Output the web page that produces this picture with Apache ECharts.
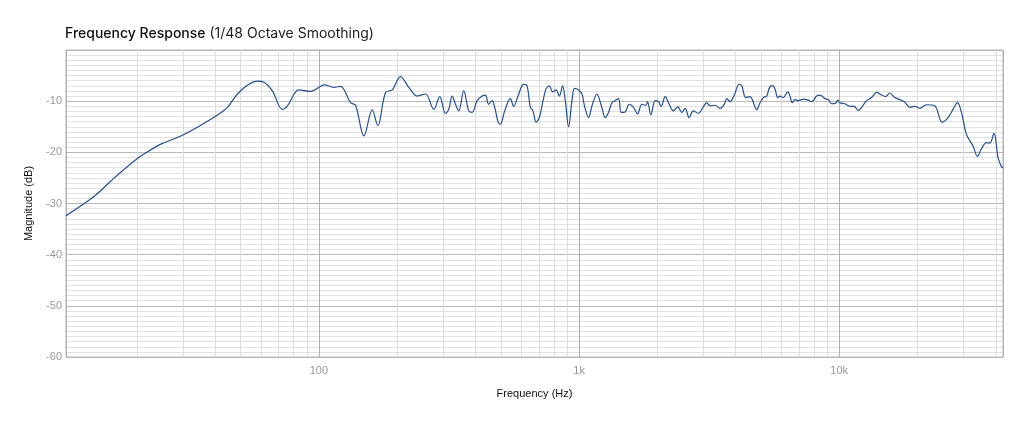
<!DOCTYPE html>
<html>
<head>
<meta charset="utf-8">
<title>Frequency Response</title>
<script src="https://cdn.jsdelivr.net/npm/echarts@6/dist/echarts.min.js"></script>
<style>
  html, body { margin: 0; padding: 0; background: #fff; }
  #chart { width: 1024px; height: 427px; }
</style>
</head>
<body>
<div id="chart"></div>
<script>
// frequency (Hz) and magnitude (dB)
var freqs = [
  10.66, 13.69, 15.86, 19.49, 21.61, 24.68, 29.45, 35.15, 40.74, 44.5,
  48.62, 53.11, 58.0, 61.5, 66.24, 72.36, 75.62, 83.81, 92.91, 101.5,
  104.5, 114.2, 121.1, 132.3, 138.3, 148.9, 160.3, 168.4, 180.3, 191.3,
  205.9, 221.6, 238.6, 256.8, 276.4, 291.4, 306.5, 315.5, 325.2, 334.8,
  344.7, 360.3, 376.6, 388.1, 405.6, 424.0, 436.5, 449.4, 463.2, 473.9,
  488.4, 498.4, 517.6, 544.4, 560.5, 582.7, 612.2, 631.0, 649.7, 665.3,
  683.2, 703.5, 724.4, 746.4, 768.6, 791.4, 815.5, 839.5, 864.4, 885.2,
  911.4, 939.1, 961.0, 995.6, 1026, 1050, 1088, 1121, 1171, 1217,
  1261, 1298, 1338, 1377, 1418, 1452, 1504, 1558, 1619, 1677,
  1744, 1806, 1832, 1888, 1961, 2020, 2069, 2143, 2220, 2306,
  2397, 2483, 2557, 2649, 2751, 2875, 2979, 3097, 3189, 3333,
  3483, 3618, 3695, 3805, 3952, 4121, 4220, 4373, 4542, 4635,
  4819, 4962, 5109, 5265, 5380, 5531, 5665, 5800, 5920, 6095,
  6337, 6467, 6600, 6760, 6961, 7275, 7603, 7834, 8188, 8431,
  8812, 9074, 9350, 9687, 9860, 10060, 10517, 10993, 11420, 11830,
  12190, 12740, 13320, 13920, 14550, 15080, 15650, 16360, 17100, 17870,
  18680, 19530, 20410, 21660, 23300, 24860, 26210, 27390, 28480, 29510,
  30850, 32700, 34000, 35220, 36810, 37900, 39360, 40780, 42020, 42620
];
var magnitudes = [
  -32.4, -28.6, -25.6, -21.7, -20.1, -18.4, -16.8, -14.7, -12.7, -11.2,
  -8.6, -6.9, -6.1, -6.3, -8.0, -11.6, -10.9, -7.8, -8.1, -7.1,
  -6.8, -7.3, -7.1, -10.3, -10.8, -16.8, -11.7, -14.8, -8.3, -7.8,
  -5.2, -7.3, -9.0, -8.6, -11.6, -9.1, -12.4, -11.6, -9.0, -10.6,
  -11.9, -8.0, -11.9, -12.2, -9.9, -9.0, -8.8, -10.6, -9.9, -11.2,
  -14.1, -14.5, -11.9, -9.5, -11.0, -9.0, -6.7, -7.0, -11.2, -11.9,
  -14.1, -13.2, -10.3, -7.6, -7.0, -8.2, -7.8, -9.0, -7.0, -9.9,
  -15.0, -9.9, -7.5, -7.8, -8.6, -11.0, -13.2, -10.9, -8.6, -10.8,
  -13.2, -12.2, -10.3, -9.9, -9.5, -12.2, -12.1, -10.6, -11.2, -12.5,
  -10.6, -10.8, -10.1, -12.7, -9.9, -10.1, -11.0, -9.1, -10.6, -11.9,
  -11.1, -12.2, -11.4, -13.2, -11.9, -12.4, -11.4, -10.3, -10.9, -10.8,
  -11.4, -10.6, -9.5, -10.1, -8.8, -6.7, -7.0, -9.3, -9.1, -9.7,
  -11.7, -10.3, -9.3, -9.0, -7.5, -6.9, -7.6, -9.3, -9.0, -9.3,
  -8.2, -9.0, -10.3, -9.7, -9.9, -9.6, -9.8, -10.1, -9.0, -8.8,
  -9.5, -9.7, -10.5, -10.4, -9.8, -10.3, -10.5, -11.0, -11.0, -11.8,
  -11.2, -9.9, -9.3, -8.3, -8.8, -9.1, -8.4, -9.3, -9.7, -10.2,
  -11.2, -11.0, -11.4, -10.7, -10.9, -14.1, -13.2, -11.6, -10.3, -12.2,
  -16.5, -18.8, -20.8, -19.3, -18.1, -18.2, -16.3, -21.0, -22.8, -23.0
];

var freqMin = 10.66;
var freqMax = 42620;
var dbTicks = [-60, -50, -40, -30, -20, -10, 0];

(function() {
	var chart = echarts.init(document.getElementById("chart"));

	var data = [];
	for (var i = 0; i < freqs.length; i++) {
		data.push([freqs[i], magnitudes[i]]);
	}

	// minor vertical grid: 2..9 of each decade
	var minorLines = [];
	[10, 100, 1000, 10000].forEach(function(dec) {
		for (var k = 2; k <= 9; k++) {
			var f = dec * k;
			if (f > freqMin && f < freqMax) minorLines.push({ xAxis: f });
		}
	});

	var option = {
		animation: false,
		title: {
			text: '{b|Frequency Response}{n| (1/48 Octave Smoothing)}',
			left: 60,
			top: 22,
			textStyle: {
				rich: {
					b: { fontSize: 14, color: '#111', fontWeight: 500, fontFamily: 'Inter' },
					n: { fontSize: 14, color: '#222', fontWeight: 'normal', fontFamily: 'Inter' }
				}
			}
		},
		grid: {
			left: 66,
			right: 21,
			top: 50,
			bottom: 70,
			show: true,
			borderColor: '#b5b5b5',
			borderWidth: 1
		},
		xAxis: {
			type: 'log',
			logBase: 10,
			min: freqMin,
			max: freqMax,
			name: 'Frequency (Hz)',
			nameLocation: 'middle',
			nameGap: 31,
			nameTextStyle: { color: '#111', fontSize: 11, fontFamily: 'Liberation Sans' },
			axisLine: { lineStyle: { color: '#b5b5b5' } },
			axisTick: { show: false },
			axisLabel: {
				color: '#999',
				fontSize: 11,
				fontFamily: 'Liberation Sans',
				margin: 8,
				showMinLabel: false,
				showMaxLabel: false,
				formatter: function(v) {
					v = Math.round(v);
					return v >= 1000 ? (v / 1000) + 'k' : String(v);
				}
			},
			splitLine: { show: true, lineStyle: { color: '#b0b0b0', width: 1 } }
		},
		yAxis: {
			type: 'value',
			min: dbTicks[0],
			max: dbTicks[dbTicks.length - 1],
			interval: 10,
			name: 'Magnitude (dB)',
			nameLocation: 'middle',
			nameRotate: 90,
			nameGap: 32,
			nameTextStyle: { color: '#111', fontSize: 11, fontFamily: 'Liberation Sans' },
			axisLine: { show: false },
			axisTick: { show: false },
			axisLabel: {
				color: '#999',
				fontSize: 11,
				fontFamily: 'Liberation Sans',
				margin: 4,
				showMaxLabel: false
			},
			splitLine: { show: true, lineStyle: { color: '#b8b8b8', width: 1 } },
			minorTick: { show: false, splitNumber: 10 },
			minorSplitLine: { show: true, lineStyle: { color: '#e2e2e2', width: 1 } }
		},
		series: [
			{
				name: 'grid',
				type: 'line',
				data: [],
				silent: true,
				markLine: {
					silent: true,
					symbol: 'none',
					z: 1,
					label: { show: false },
					lineStyle: { color: '#dcdcdc', width: 1, type: 'solid' },
					emphasis: { disabled: true },
					data: minorLines
				}
			},
			{
				name: 'Magnitude',
				type: 'line',
				z: 5,
				showSymbol: false,
				smooth: 0.35,
				lineStyle: { color: '#24508f', width: 1.2 },
				data: data
			}
		]
	};

	chart.setOption(option);
})();
</script>
</body>
</html>
